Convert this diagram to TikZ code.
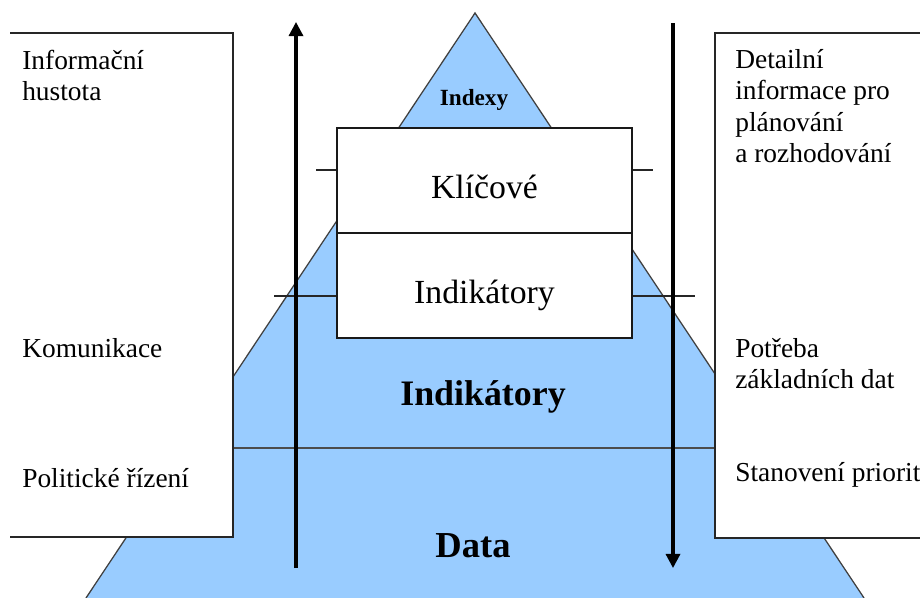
\documentclass[tikz,border=0pt]{standalone}
\usepackage{fontspec}
\setmainfont{Liberation Serif}
\usetikzlibrary{positioning,arrows.meta}
\definecolor{pyrblue}{RGB}{153,204,255}

\begin{document}
\begin{tikzpicture}[x=0.025cm, y=-0.025cm,
      keybox/.style={rectangle, draw=black!90, fill=white, line width=0.9pt,
                     minimum width=7.375cm, minimum height=2.625cm,
                     text height=26pt, text depth=0pt, inner sep=0pt, outer sep=0pt,
                     font=\fontsize{24}{28}\selectfont},
      panel/.style={draw=black!85, line width=1pt},
      side/.style={anchor=north west, align=left, inner sep=0pt,
                   font=\fontsize{19.5}{22.3}\selectfont},
      level/.style={anchor=base, font=\bfseries\fontsize{#1}{28}\selectfont},
      tick/.style={draw=black!85, line width=0.8pt},
      flow/.style={line width=2.2pt, -{Triangle[length=10pt, width=10pt]}}]
  \useasboundingbox (0,0) rectangle (920,598);

  \coordinate (apex) at (475,13);
  \coordinate (bl) at (86,598);
  \coordinate (br) at (864,598);
  \fill[pyrblue] (apex) -- (bl) -- (br) -- cycle;
  \draw[black!75, line width=0.9pt] (bl) -- (apex) -- (br);
  \draw[black!70, line width=1pt] (233,448) -- (715,448);

  \draw[tick] (316,170) -- (653,170);
  \draw[tick] (274,296) -- (695,296);
  \node[keybox] (kli) at (484.5,180.5) {Klíčové};
  \node[keybox, below=0pt of kli] (ind) {Indikátory};

  \fill[white] (10,33) rectangle (233,537);
  \draw[panel] (10,33) -| (233,537) -- (10,537);
  \fill[white] (715,33) rectangle (925,538);
  \draw[panel] (925,33) -| (715,538) -- (925,538);

  \node[side] (hust) at (22,50) {Informační\\hustota};
  \node[side] (komu) at (22,338) {Komunikace};
  \node[side] (rize) at (22,468) {Politické řízení};
  \node[side] (deta) at (735,49) {Detailní\\informace pro\\plánování\\a rozhodování};
  \node[side] (potr) at (735,338) {Potřeba\\základních dat};
  \node[side] (prio) at (735,462) {Stanovení priorit};

  \node[level=16.5] (idx) at (474,105) {Indexy};
  \node[level=25.5] (ikt) at (483,405) {Indikátory};
  \node[level=26] (dat) at (473,557) {Data};

  \coordinate (upS) at (296,568);
  \coordinate (upE) at (296,22);
  \coordinate (dnS) at (673,23);
  \coordinate (dnE) at (673,568);
  \draw[flow] (upS) -- (upE);
  \draw[flow] (dnS) -- (dnE);
\end{tikzpicture}
\end{document}
